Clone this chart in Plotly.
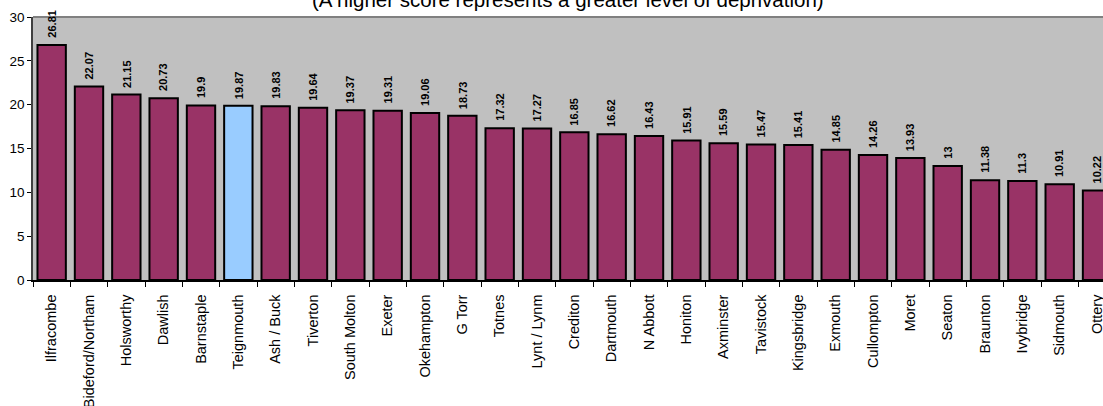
import plotly.graph_objects as go

categories = ["Ilfracombe", "Bideford/Northam", "Holsworthy", "Dawlish", "Barnstaple",
              "Teignmouth", "Ash / Buck", "Tiverton", "South Molton", "Exeter",
              "Okehampton", "G Torr", "Totnes", "Lynt / Lynm", "Crediton",
              "Dartmouth", "N Abbott", "Honiton", "Axminster", "Tavistock",
              "Kingsbridge", "Exmouth", "Cullompton", "Moret", "Seaton",
              "Braunton", "Ivybridge", "Sidmouth", "Ottery"]
scores = [26.81, 22.07, 21.15, 20.73, 19.9, 19.87, 19.83, 19.64, 19.37, 19.31,
          19.06, 18.73, 17.32, 17.27, 16.85, 16.62, 16.43, 15.91, 15.59, 15.47,
          15.41, 14.85, 14.26, 13.93, 13, 11.38, 11.3, 10.91, 10.22]
score_labels = ["26.81", "22.07", "21.15", "20.73", "19.9", "19.87", "19.83", "19.64",
                "19.37", "19.31", "19.06", "18.73", "17.32", "17.27", "16.85", "16.62",
                "16.43", "15.91", "15.59", "15.47", "15.41", "14.85", "14.26", "13.93",
                "13", "11.38", "11.3", "10.91", "10.22"]
highlight = "Teignmouth"
title_text = "(A higher score represents a greater level of deprivation)"

FONT = "Liberation Sans, Arial, sans-serif"
colors = ["#99CCFF" if c == highlight else "#993366" for c in categories]

fig = go.Figure()
fig.add_trace(go.Bar(
    x=categories, y=scores,
    marker=dict(color=colors, line=dict(color="#000000", width=2)),
    hoverinfo="x+y",
))

for c, v, t in zip(categories, scores, score_labels):
    fig.add_annotation(x=c, y=v, text="<b>%s</b>" % t, showarrow=False,
                       textangle=-90, yanchor="bottom", xanchor="center",
                       yshift=5, font=dict(family=FONT, size=11, color="#000000"))

fig.add_annotation(x=0.5, y=1, xref="paper", yref="paper", text=title_text,
                   showarrow=False, yanchor="middle", xanchor="center", yshift=18,
                   font=dict(family=FONT, size=20.5, color="#000000"))

fig.add_shape(type="line", xref="paper", yref="paper", x0=0, x1=1, y0=1, y1=1,
              line=dict(color="#808080", width=2))

fig.update_layout(
    width=1103, height=406,
    margin=dict(l=33, r=0, t=17, b=126, autoexpand=False),
    paper_bgcolor="#FFFFFF", plot_bgcolor="#C0C0C0",
    bargap=0.24, showlegend=False,
    font=dict(family=FONT, color="#000000"),
)
fig.update_xaxes(
    type="category", range=[-0.5, 28.16], tickangle=-90,
    tickson="boundaries", ticks="outside", ticklen=5, tickcolor="#000000",
    showline=True, linecolor="#000000", linewidth=1.5,
    showgrid=False, ticklabelstandoff=7,
    tickfont=dict(family=FONT, size=14.5, color="#000000"),
)
fig.update_yaxes(
    range=[0, 30], dtick=5, tick0=0, ticks="outside", ticklen=4, tickcolor="#000000",
    showline=True, linecolor="#404040", linewidth=1.5, showgrid=False, zeroline=False,
    tickfont=dict(family=FONT, size=13.5, color="#000000"),
)

fig.write_html("out.html", config={"displayModeBar": False},
               post_script="document.body.style.margin='0';document.body.style.overflow='hidden';")
